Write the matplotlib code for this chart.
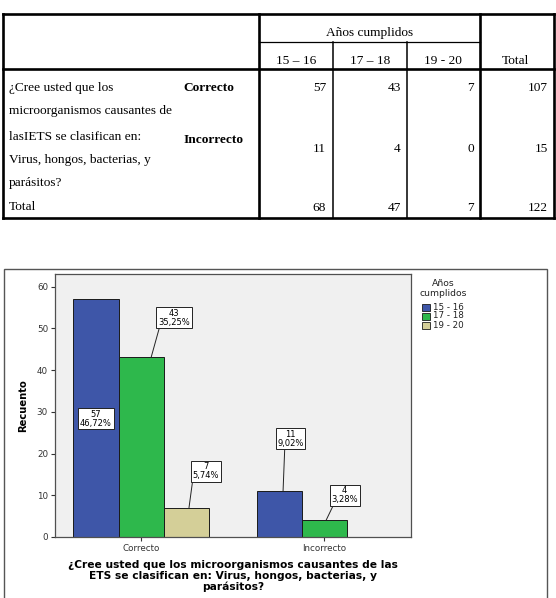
import numpy as np
import matplotlib
matplotlib.use("Agg")
import matplotlib.pyplot as plt
from matplotlib.patches import Rectangle
from matplotlib.lines import Line2D

# ---------------- data ----------------
age_groups = ["15 – 16", "17 – 18", "19 - 20"]
legend_labels = ["15 - 16", "17 - 18", "19 - 20"]
categories = ["Correcto", "Incorrecto"]
counts_15_16 = [57, 11]
counts_17_18 = [43, 4]
counts_19_20 = [7, 0]
row_totals = [107, 15]
col_totals = [68, 47, 7]
grand_total = 122
question_lines = ["¿Cree usted que los", "microorganismos causantes de",
                  "lasIETS se clasifican en:", "Virus, hongos, bacterias, y",
                  "parásitos?"]
xlabel_text = ("¿Cree usted que los microorganismos causantes de las\n"
               "ETS se clasifican en: Virus, hongos, bacterias, y\n"
               "parásitos?")
yticks = [0, 10, 20, 30, 40, 50, 60]

W, H = 556, 598
fig = plt.figure(figsize=(W / 100, H / 100), dpi=100)


def fx(x):
    return x / W


def fy(y):
    return 1 - y / H


# ---------------- table ----------------
serif = "Liberation Serif"
tfs = 9.6


def hline(x0, x1, y, lw):
    fig.add_artist(Line2D([fx(x0), fx(x1)], [fy(y), fy(y)], color="black",
                          lw=lw, transform=fig.transFigure, solid_capstyle="projecting"))


def vline(x, y0, y1, lw):
    fig.add_artist(Line2D([fx(x), fx(x)], [fy(y0), fy(y1)], color="black",
                          lw=lw, transform=fig.transFigure, solid_capstyle="projecting"))


TL, TR, TT, TB = 2.5, 554, 13.5, 218
thick, thin = 1.9, 0.9
hline(TL, TR, TT, thick)
hline(TL, TR, TB, thick)
vline(TL, TT, TB, thick)
vline(TR, TT, TB, thick)
hline(TL, TR, 69, thick)
hline(259, 480, 42, thin)
vline(259, TT, TB, thick)
vline(480, TT, TB, thick)
vline(333, 42, TB, 1.1)
vline(407, 42, TB, 1.1)


def ttext(x, y, s, ha="left", weight="normal"):
    fig.text(fx(x), fy(y), s, ha=ha, va="center", fontsize=tfs,
             family=serif, weight=weight)


ttext(370, 33, "Años cumplidos", ha="center")
for cx, lab in zip([296, 370, 443], age_groups):
    ttext(cx, 61, lab, ha="center")
ttext(516, 61, "Total", ha="center")

for i, line in enumerate(question_lines):
    ttext(9, [88, 111, 137, 160, 183][i], line)
ttext(183, 88, "Correcto", weight="bold")
ttext(183, 140, "Incorrecto", weight="bold")
ttext(9, 207, "Total")

right_edges = [326, 401, 474, 548]
row_y = [88, 149]
for r in range(2):
    vals = [counts_15_16[r], counts_17_18[r], counts_19_20[r], row_totals[r]]
    for xe, v in zip(right_edges, vals):
        ttext(xe, row_y[r], str(v), ha="right")
for xe, v in zip(right_edges, col_totals + [grand_total]):
    ttext(xe, 208, str(v), ha="right")

# ---------------- chart ----------------
colors = ["#3E56A8", "#2EB84C", "#D4CF98"]
fig.add_artist(Rectangle((fx(4), fy(603)), fx(547) - fx(4), fy(269) - fy(603),
                         transform=fig.transFigure, fill=False,
                         edgecolor="#555555", lw=1.0))

ax = fig.add_axes([fx(55), fy(537), fx(411) - fx(55), fy(274) - fy(537)])
ax.set_facecolor("#F0F0F0")
x = np.arange(len(categories))
w = 0.246
series = [counts_15_16, counts_17_18, counts_19_20]
bars = []
for i, vals in enumerate(series):
    b = ax.bar(x + (i - 1) * w, vals, w, color=colors[i], edgecolor="#1a1a1a",
               lw=0.7, label=legend_labels[i])
    bars.append(b)
ax.set_xlim(-0.47, 1.475)
ax.set_ylim(0, 63)
ax.set_yticks(yticks)
ax.set_xticks(x)
ax.set_xticklabels(categories)
ax.tick_params(axis="both", labelsize=6.3, colors="#333333", length=3,
               width=0.8, pad=2)
for s in ax.spines.values():
    s.set_color("#505050")
    s.set_linewidth(0.9)

ax.set_xlabel(xlabel_text, fontsize=7.7, weight="bold", linespacing=1.1)
ax.xaxis.set_label_coords(0.5, -0.088)
fig.text(fx(23), fy(406), "Recuento", rotation=90, ha="center", va="center",
         fontsize=7.2, weight="bold")

# value labels: (box offset from bar centre, box height in data units,
#                line start offset, line attach point on box)  -- layout only
label_layout = {
    (0, 0): (0.0, 28.3, None, None),
    (1, 0): (0.18, 52.5, 0.055, 0.05),
    (2, 0): (0.109, 15.8, 0.016, 0.0),
    (0, 1): (0.063, 23.5, 0.022, 0.28),
    (1, 1): (0.112, 10.0, 0.011, 0.1),
}
for (si, ci), (dx, ty, lx, rp) in label_layout.items():
    v = series[si][ci]
    bx = x[ci] + (si - 1) * w
    pct = f"{v / grand_total * 100:.2f}%".replace(".", ",")
    txt = f"{v}\n{pct}"
    bbox = dict(boxstyle="square,pad=0.2", fc="white", ec="#222222", lw=0.7)
    if lx is None:
        ax.text(bx + dx, ty, txt, ha="center", va="center", fontsize=6,
                linespacing=0.95, bbox=bbox)
    else:
        ax.annotate(txt, xy=(bx + lx, v), xytext=(bx + dx, ty),
                    ha="center", va="center", fontsize=6, linespacing=0.95,
                    bbox=bbox,
                    arrowprops=dict(arrowstyle="-", color="#222222", lw=0.7,
                                    relpos=(rp, 0.0), shrinkA=0, shrinkB=0))

# legend (drawn by hand to match the original layout)
fig.text(fx(443), fy(284), "Años", ha="center", va="center", fontsize=6.7,
         color="#222222")
fig.text(fx(443), fy(293), "cumplidos", ha="center", va="center", fontsize=6.7,
         color="#222222")
for i, lab in enumerate(legend_labels):
    cy = 307 + 9 * i
    fig.add_artist(Rectangle((fx(422), fy(cy + 3.5)), fx(8), fy(0) - fy(7),
                             transform=fig.transFigure, facecolor=colors[i],
                             edgecolor="#1a1a1a", lw=0.6))
    fig.text(fx(433), fy(cy), lab, ha="left", va="center", fontsize=6.3,
             color="#222222")

fig.savefig("out.png", dpi=100)
